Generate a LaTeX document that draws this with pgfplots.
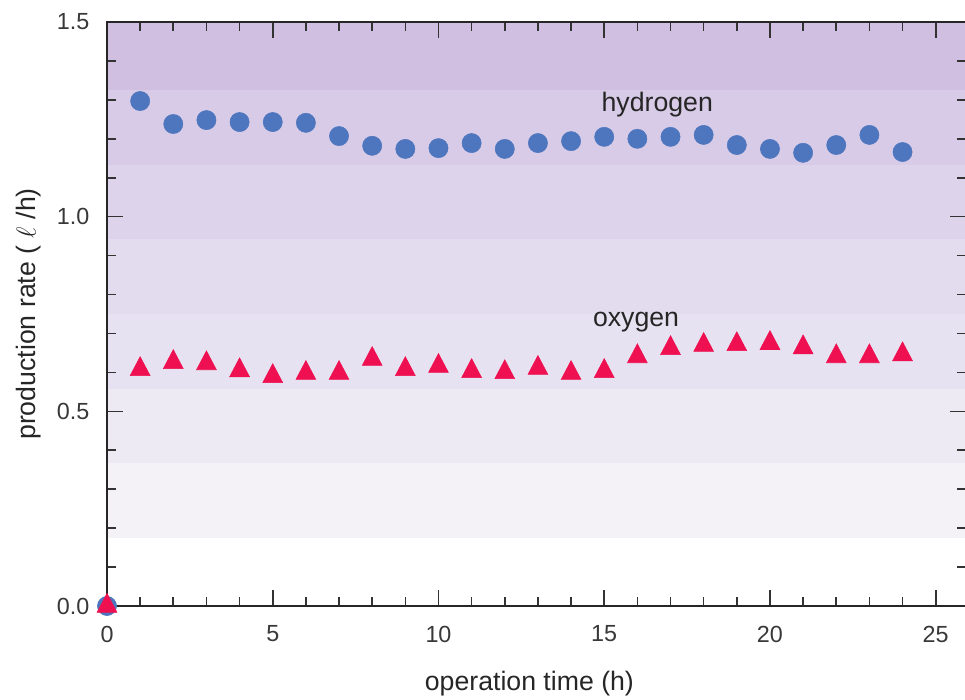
\documentclass[border=0pt]{standalone}
\usepackage{fontspec}
\setmainfont{Liberation Sans}
\usepackage{pgfplots}
\pgfplotsset{compat=1.18}
\definecolor{hblue}{RGB}{78,118,190}
\definecolor{ored}{RGB}{238,16,80}
\definecolor{bandA}{RGB}{208,191,224}
\definecolor{bandB}{RGB}{216,203,231}
\definecolor{bandC}{RGB}{221,212,235}
\definecolor{bandD}{RGB}{226,220,238}
\definecolor{bandE}{RGB}{231,226,241}
\definecolor{bandF}{RGB}{237,234,243}
\definecolor{bandG}{RGB}{244,242,246}
\pgfplotstableread{
x y
0 0
1 1.297
2 1.238
3 1.248
4 1.243
5 1.243
6 1.241
7 1.207
8 1.182
9 1.174
10 1.176
11 1.189
12 1.174
13 1.189
14 1.194
15 1.205
16 1.200
17 1.205
18 1.210
19 1.184
20 1.174
21 1.164
22 1.184
23 1.210
24 1.166
}\hydrogen
\pgfplotstableread{
x y
0 0
1 0.608
2 0.626
3 0.623
4 0.605
5 0.590
6 0.598
7 0.598
8 0.634
9 0.608
10 0.616
11 0.603
12 0.600
13 0.611
14 0.598
15 0.603
16 0.641
17 0.662
18 0.670
19 0.672
20 0.675
21 0.664
22 0.641
23 0.641
24 0.646
}\oxygen
\begin{document}
\begin{tikzpicture}
\begin{axis}[
  at={(0pt,0pt)}, anchor=south west,
  scale only axis, width=643.9pt, height=438pt,
  xmin=0, xmax=25.9, ymin=0, ymax=1.5,
  set layers,
  clip mode=individual,
  axis line style={line width=1.5pt, color=black!85},
  xtick={0,5,...,25}, minor xtick={1,2,3,4,6,7,8,9,11,12,13,14,16,17,18,19,21,22,23,24},
  ytick={0,0.5,1,1.5}, yticklabels={0.0,0.5,1.0,1.5},
  minor ytick={0.1,0.2,0.3,0.4,0.6,0.7,0.8,0.9,1.1,1.2,1.3,1.4},
  tick align=inside,
  major tick length=12pt, minor tick length=6.5pt,
  tick style={line width=1.2pt, color=black!80},
  /pgf/number format/assume math mode=true,
  tick label style={font=\fontsize{17.5}{20}\selectfont, text=black!78},
  yticklabel style={anchor=east, inner sep=0pt, xshift=-13pt},
  xticklabel style={anchor=center, inner sep=0pt, yshift=-21pt},
  xlabel={operation time (h)},
  ylabel={production rate ( $\ell$ /h)},
  label style={font=\fontsize{20}{24}\selectfont, text=black!85},
  xlabel style={at={(axis description cs:0.492,-0.1336)}, anchor=center},
  ylabel style={at={(axis description cs:-0.0909,0.5)}, anchor=center},
]
\addplot[draw=none, fill=bandA, on layer=axis background] coordinates {(0,1.5) (25.9,1.5)} \closedcycle;
\addplot[draw=none, fill=bandB, on layer=axis background] coordinates {(0,1.325) (25.9,1.325)} \closedcycle;
\addplot[draw=none, fill=bandC, on layer=axis background] coordinates {(0,1.133) (25.9,1.133)} \closedcycle;
\addplot[draw=none, fill=bandD, on layer=axis background] coordinates {(0,0.942) (25.9,0.942)} \closedcycle;
\addplot[draw=none, fill=bandE, on layer=axis background] coordinates {(0,0.750) (25.9,0.750)} \closedcycle;
\addplot[draw=none, fill=bandF, on layer=axis background] coordinates {(0,0.558) (25.9,0.558)} \closedcycle;
\addplot[draw=none, fill=bandG, on layer=axis background] coordinates {(0,0.367) (25.9,0.367)} \closedcycle;
\addplot[draw=none, fill=white, on layer=axis background] coordinates {(0,0.175) (25.9,0.175)} \closedcycle;
\addplot[only marks, mark=*, mark size=7.2pt, color=hblue, mark options={draw=none, fill=hblue}] table[x=x,y=y] {\hydrogen};
\addplot[only marks, mark=triangle*, mark size=8.6pt, color=ored, mark options={draw=none, fill=ored, yscale=1.1}] table[x=x,y=y] {\oxygen};
\node[font=\fontsize{20}{24}\selectfont, text=black!85, anchor=base] at (axis cs:16.6,1.269) {hydrogen};
\node[font=\fontsize{20}{24}\selectfont, text=black!85, anchor=base] at (axis cs:15.96,0.719) {oxygen};
\end{axis}
\pgfresetboundingbox
\path[use as bounding box] (-80.25pt,-70.5pt) rectangle (643.5pt,454.5pt);
\end{tikzpicture}
\end{document}
